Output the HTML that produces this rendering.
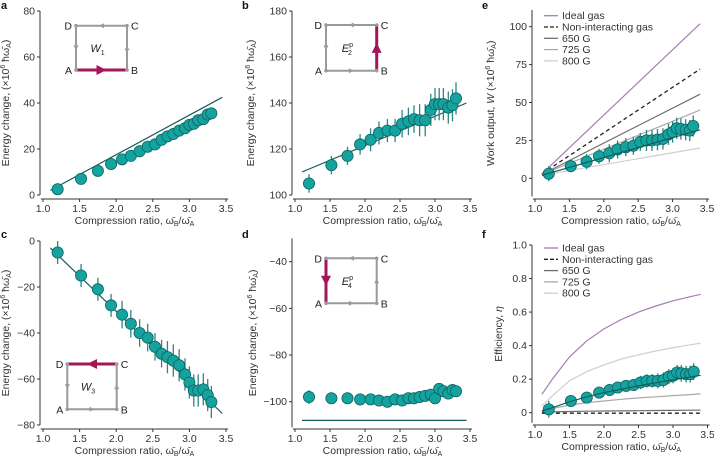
<!DOCTYPE html>
<html><head><meta charset="utf-8"><style>
body{margin:0;background:#fff;}
svg{display:block;font-family:"Liberation Sans",sans-serif;}
</style></head><body>
<svg id="fig" width="714" height="459" viewBox="0 0 714 459"></svg>
<script>
const xs = [1.2,1.52,1.75,1.93,2.08,2.2,2.32,2.43,2.53,2.62,2.7,2.78,2.86,2.94,3.0,3.06,3.12,3.19,3.25,3.3];
const aVals = [2.5,7,10.5,13.5,15.5,17,19,21,22,24,25.5,26.5,28,29,30.5,31,32.5,33,35,35.5];
const aErr = [1,1,1,1,1,1,1,1,1,1,1,1,1,1,1,1,1,1,1,1];
const bVals = [105,113,117,122,124,127,128,128,131,132,133,132.5,132.5,137,139.5,139.5,139.5,138,139,142];
const bErr = [4,4,4,4.5,5,5,5,5,6,6,6,7,7,7,7,7,7,7,7,7];
const cVals = [-5,-15,-21,-28,-32,-36,-40,-42,-46,-49,-50.5,-52,-54,-58,-61.5,-65,-65,-64.5,-67,-70];
const cErr = [5,5,5,5,6,6,6,6,6,6,7,7,7,7,7,7,7,7,7,7];
const dVals = [-98,-98.5,-98.5,-99,-99,-99.5,-100,-99,-99.5,-98.5,-98.5,-98,-97.5,-97,-98.5,-94.5,-95.5,-96.5,-95,-95.5];
const dErr = [3,2,2,2,2,2,2,2,2,2,2,2,2,2,2,2,2,2,2,2];
const eVals = [3,8,11,14.5,16.5,19,20.5,21.5,24,25,25,25.5,26,29,30.5,33,32.5,32,31.5,34.5];
const eErr = [5,4,5,5,6,6,6,6,6,7,7,7,7,7,7,7,7,7,7,7];
const fVals = [0.02,0.07,0.09,0.12,0.135,0.15,0.16,0.165,0.18,0.19,0.19,0.19,0.195,0.215,0.22,0.24,0.235,0.23,0.23,0.245];
const fErr = [0.05,0.035,0.035,0.035,0.035,0.035,0.035,0.035,0.04,0.04,0.04,0.045,0.045,0.045,0.045,0.045,0.05,0.05,0.05,0.05];
const aFitX = [1.1,3.45]; const aFitY = [2,42.5];
const bFitX = [1.1,3.45]; const bFitY = [110,140];
const cFitX = [1.1,3.45]; const cFitY = [-3,-75];
const dFitX = [1.1,3.45]; const dFitY = [-108,-108];
const eLineX = [1.1,3.4];
const eIdeal = [3,102];
const eNonInt = [3,72];
const e650 = [2.5,55.5];
const e725 = [2.5,45];
const e800 = [2,20];
const eFit = [2,32];
const fCurveX = [1.1,1.25,1.5,1.75,2,2.25,2.5,2.75,3,3.25,3.4];
const fIdeal = [0.11,0.2,0.333,0.429,0.5,0.556,0.6,0.636,0.667,0.692,0.706];
const f800 = [0.04,0.1,0.19,0.245,0.285,0.32,0.345,0.368,0.388,0.405,0.415];
const f725 = [0.01,0.025,0.045,0.06,0.07,0.08,0.088,0.095,0.102,0.108,0.112];
const f650 = [0.003,0.005,0.007,0.009,0.01,0.011,0.012,0.013,0.014,0.015,0.015];
const fNonInt = [-0.003,-0.003,-0.003,-0.003,-0.003,-0.003,-0.003,-0.003,-0.003,-0.003,-0.003];
const fFit = [0.01,0.03,0.065,0.095,0.12,0.14,0.16,0.178,0.196,0.213,0.223];
const xTicks = [1.0,1.5,2.0,2.5,3.0,3.5];
const aTicks = [0,20,40,60,80];
const bTicks = [100,120,140,160,180];
const cTicks = [0,-20,-40,-60,-80];
const dTicks = [-40,-60,-80,-100];
const eTicks = [0,25,50,75,100];
const fTicks = [0,0.2,0.4,0.6,0.8,1.0];
const fTickLabels = ['0','0.2','0.4','0.6','0.8','1.0'];
const legendLabels = ['Ideal gas','Non-interacting gas','650 G','725 G','800 G'];

const NS='http://www.w3.org/2000/svg';
const svg=document.getElementById('fig');
function mk(tag,attrs,parent){const el=document.createElementNS(NS,tag);for(const k in attrs)el.setAttribute(k,attrs[k]);(parent||svg).appendChild(el);return el;}

function panel(c){
  const g=mk('g',{});
  
  
  const X=v=>c.x0+(v-1)*(c.x1-c.x0)/2.5;
  const Y=v=>c.yp0+(v-c.yv0)*(c.yp1-c.yp0)/(c.yv1-c.yv0);
  c.X=X;c.Y=Y;
  const lab=mk('text',{x:c.lx,y:c.ly,'font-size':11,'font-weight':'bold',fill:'#111'},g);lab.textContent=c.id;
  
  
  // y axis
  const ya=mk('line',{x1:c.x0-3,x2:c.x0-3,y1:Y(c.ymax),y2:Y(c.ymin),stroke:'#333','stroke-width':1},g);
  
  
  c.yt.forEach((t,i)=>{
    mk('line',{x1:c.x0-6,x2:c.x0-3,y1:Y(t),y2:Y(t),stroke:'#333'},g);
    const tx=mk('text',{x:c.x0-8,y:Y(t)+3.5,'font-size':10.5,'text-anchor':'end',fill:'#333'},g);
    tx.textContent=c.ytl?c.ytl[i]:String(t).replace('-','\u2212');
    
    
  });
  const xa=mk('line',{x1:X(0.97),x2:X(3.53),y1:c.xay,y2:c.xay,stroke:'#333'},g);
  
  
  xTicks.forEach(t=>{
    mk('line',{x1:X(t),x2:X(t),y1:c.xay,y2:c.xay+3,stroke:'#333'},g);
    const tx=mk('text',{x:X(t),y:c.xay+13,'font-size':10.5,'text-anchor':'middle',fill:'#333'},g);
    tx.textContent=t.toFixed(1);
    
    
  });
  const xt=mk('text',{x:(X(1)+X(3.5))/2,y:c.xay+25,'font-size':10.5,'text-anchor':'middle',fill:'#333'},g);
  xt.innerHTML='Compression ratio, ω̄<tspan font-size="7" dy="2">B</tspan><tspan dy="-2">/ω̄</tspan><tspan font-size="7" dy="2">A</tspan>';
  
  
  const yc=(Y(c.ymax)+Y(c.ymin))/2;
  const yt=mk('text',{x:0,y:0,'font-size':10.5,'text-anchor':'middle',fill:'#333',transform:`translate(${c.ytx},${yc}) rotate(-90)`},g);
  yt.innerHTML=c.ytitle;
  
  
  return g;
}
function line(g,c,xa,ya,color,w,dash,name){
  const d=xa.map((x,i)=>(i?'L':'M')+c.X(x).toFixed(1)+','+c.Y(ya[i]).toFixed(1)).join(' ');
  const p=mk('path',{d:d,fill:'none',stroke:color,'stroke-width':w},g);
  if(dash)p.setAttribute('stroke-dasharray',dash);
  
  
}
function points(g,c,vals,err){
  xs.forEach((x,i)=>{
    const e=mk('line',{x1:c.X(x),x2:c.X(x),y1:c.Y(vals[i]-err[i]),y2:c.Y(vals[i]+err[i]),stroke:'#2f8580','stroke-width':1.3},g);
    
    
  });
  xs.forEach((x,i)=>{
    const p=mk('circle',{cx:c.X(x),cy:c.Y(vals[i]),r:5.6,fill:'#15a3a0',stroke:'#0d6461','stroke-width':0.8},g);
    
    
  });
}
function inset(g,L,T,R,B,hl,lbl,sup,sub){
  const gi=mk('g',{},g);
  
  
  const gr='#9a9a9a';
  const sides={AB:[L,B,R,B],BC:[R,B,R,T],CD:[R,T,L,T],DA:[L,T,L,B]};
  for(const s in sides){const v=sides[s];
    const hi=s===hl;
    mk('line',{x1:v[0],y1:v[1],x2:v[2],y2:v[3],stroke:hi?'#a3175a':gr,'stroke-width':hi?3:2},gi);
    const mx=(v[0]+v[2])/2,my=(v[1]+v[3])/2,dx=Math.sign(v[2]-v[0]),dy=Math.sign(v[3]-v[1]);
    const s2=hi?5:2.5;
    const tip=[mx+dx*s2,my+dy*s2],b1=[mx-dx*s2-dy*s2,my-dy*s2+dx*s2],b2=[mx-dx*s2+dy*s2,my-dy*s2-dx*s2];
    mk('polygon',{points:[tip,b1,b2].map(p=>p.join(',')).join(' '),fill:hi?'#a3175a':gr},gi);
  }
  [[L,T],[R,T],[L,B],[R,B]].forEach(p=>mk('circle',{cx:p[0],cy:p[1],r:1.8,fill:gr},gi));
  const txt=(s,x,y,a)=>{const t=mk('text',{x:x,y:y,'font-size':10.5,fill:'#222','text-anchor':a},gi);t.textContent=s;};
  txt('D',L-4,T+4,'end');txt('C',R+4,T+4,'start');txt('A',L-4,B+4,'end');txt('B',R+4,B+4,'start');
  const t=mk('text',{x:(L+R)/2-4,y:(T+B)/2+4,'font-size':11,fill:'#222','text-anchor':'middle','font-style':'italic'},gi);
  t.innerHTML=lbl+'<tspan font-size="7" font-style="normal" dy="'+(sup?-5:3)+'">'+(sup||sub)+'</tspan>'+(sup?'<tspan font-size="7" font-style="normal" dx="-5" dy="8">'+sub+'</tspan>':'');
}
const EY='Energy change, (×10<tspan font-size="7" dy="-4">6</tspan><tspan dy="4"> ħω̄</tspan><tspan font-size="7" dy="2">A</tspan><tspan dy="-2">)</tspan>';

// a
let c={id:'a',lx:1,ly:9,x0:43,x1:226,yv0:0,yp0:195,yv1:80,yp1:11,ymin:0,ymax:80,yt:aTicks,xay:199,ytx:9,ytitle:EY};
let g=panel(c);
line(g,c,aFitX,aFitY,'#135c5a',1.2,null,'fit-line');
points(g,c,aVals,aErr);
inset(g,76,25.7,127,70,'AB','W','', '1');
// b
c={id:'b',lx:242,ly:9,x0:295,x1:470,yv0:100,yp0:195,yv1:180,yp1:11,ymin:100,ymax:180,yt:bTicks,xay:199,ytx:254,ytitle:EY};
g=panel(c);
line(g,c,bFitX,bFitY,'#135c5a',1.2,null,'fit-line');
points(g,c,bVals,bErr);
inset(g,326,25,376.7,70.7,'BC','E','p','2');
// c
c={id:'c',lx:1,ly:238,x0:43,x1:226,yv0:0,yp0:241,yv1:-80,yp1:425,ymin:-80,ymax:0,yt:cTicks,xay:429,ytx:9,ytitle:EY};
g=panel(c);
line(g,c,cFitX,cFitY,'#135c5a',1.2,null,'fit-line');
points(g,c,cVals,cErr);
inset(g,67.3,364,116.7,409.3,'CD','W','','3');
// d
c={id:'d',lx:242,ly:238,x0:295,x1:470,yv0:-40,yp0:261.7,yv1:-100,yp1:401.7,ymin:-111,ymax:-30,yt:dTicks,xay:429,ytx:256,ytitle:EY};
g=panel(c);
line(g,c,dFitX,dFitY,'#135c5a',1.2,null,'fit-line');
points(g,c,dVals,dErr);
inset(g,326,258.3,376.7,303.3,'DA','E','p','4');
// e
c={id:'e',lx:482,ly:9,x0:535,x1:707,yv0:0,yp0:178.3,yv1:100,yp1:26.7,ymin:-12,ymax:111,yt:eTicks,xay:199,ytx:494,
 ytitle:'Work output, <tspan font-style="italic">W</tspan> (×10<tspan font-size="7" dy="-4">6</tspan><tspan dy="4"> ħω̄</tspan><tspan font-size="7" dy="2">A</tspan><tspan dy="-2">)</tspan>'};
g=panel(c);
line(g,c,eLineX,e800,'#cfcfcf',1.2,null,'line-800G');
line(g,c,eLineX,e725,'#a8a8a8',1.2,null,'line-725G');
line(g,c,eLineX,e650,'#6e6e6e',1.2,null,'line-650G');
line(g,c,eLineX,eNonInt,'#222',1.3,'4,3','line-non-interacting');
line(g,c,eLineX,eIdeal,'#a77bb5',1.2,null,'line-ideal-gas');
points(g,c,eVals,eErr);
line(g,c,eLineX,eFit,'#135c5a',1.2,null,'fit-line');
function legend(g,x,y){
  const cols=['#a77bb5','#222','#6e6e6e','#a8a8a8','#cfcfcf'];
  legendLabels.forEach((l,i)=>{
    const lg=mk('g',{},g);
    
    
    const yy=y+i*11.3;
    const ln=mk('line',{x1:x,x2:x+14,y1:yy,y2:yy,stroke:cols[i],'stroke-width':1.3},lg);
    if(i===1)ln.setAttribute('stroke-dasharray','4,2');
    const t=mk('text',{x:x+18,y:yy+3.5,'font-size':10.5,fill:'#333'},lg);t.textContent=l;
  });
}
legend(g,544,15.7);
// f
c={id:'f',lx:482,ly:238,x0:535,x1:707.5,yv0:0,yp0:412.7,yv1:1,yp1:245,ymin:-0.06,ymax:1.0,yt:fTicks,ytl:fTickLabels,xay:425,ytx:502,
 ytitle:'Efficiency, <tspan font-style="italic">η</tspan>'};
g=panel(c);
line(g,c,fCurveX,f650,'#6e6e6e',1.2,null,'line-650G');
line(g,c,fCurveX,fNonInt,'#222',1.3,'4,3','line-non-interacting');
line(g,c,fCurveX,f725,'#a8a8a8',1.2,null,'line-725G');
line(g,c,fCurveX,f800,'#cfcfcf',1.2,null,'line-800G');
line(g,c,fCurveX,fIdeal,'#a77bb5',1.2,null,'line-ideal-gas');
points(g,c,fVals,fErr);
line(g,c,fCurveX,fFit,'#135c5a',1.2,null,'fit-line');
legend(g,544,248);
</script>
</body></html>
